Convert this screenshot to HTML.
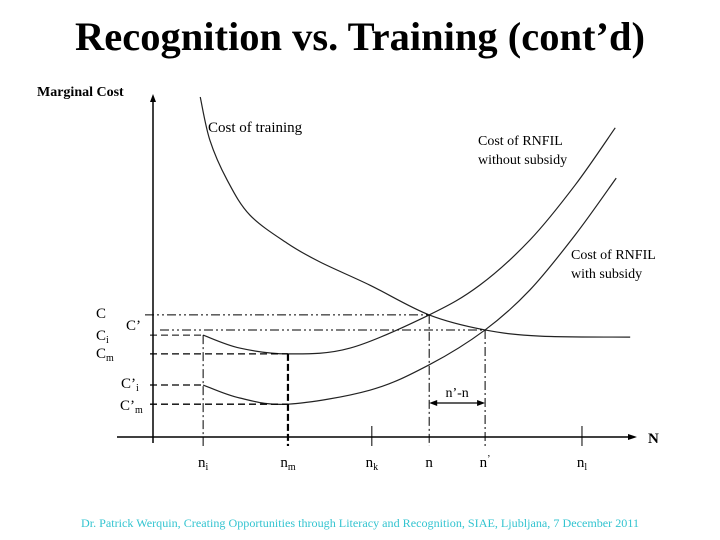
<!DOCTYPE html>
<html><head><meta charset="utf-8"><style>
html,body{margin:0;padding:0;background:#fff;}
svg{display:block;font-family:"Liberation Serif",serif;}
</style></head><body>
<svg id="chart" width="720" height="540" viewBox="0 0 720 540" xmlns="http://www.w3.org/2000/svg">
<text x="360" y="50" text-anchor="middle" font-size="40" font-weight="bold" textLength="570" lengthAdjust="spacingAndGlyphs">Recognition vs. Training (cont’d)</text>
<text x="37" y="96" font-size="14" font-weight="bold">Marginal Cost</text>
<text x="648" y="443" font-size="15" font-weight="bold">N</text>
<text x="208" y="132" font-size="15">Cost of training</text>
<text x="478" y="145" font-size="14">Cost of RNFIL</text>
<text x="478" y="164" font-size="14">without subsidy</text>
<text x="571" y="259" font-size="14">Cost of RNFIL</text>
<text x="571" y="278" font-size="14">with subsidy</text>
<text x="360" y="527" text-anchor="middle" font-size="12" fill="#33c4d0" textLength="558" lengthAdjust="spacingAndGlyphs">Dr. Patrick Werquin, Creating Opportunities through Literacy and Recognition, SIAE, Ljubljana, 7 December 2011</text>
<g id="marks"></g>
</svg>
<script>
const trainX=[9.8,11.8,15.4,20.1,27.8,34.6,45.0,57.3,68.9,80.3,99.0];
const trainY=[99.4,86.8,75.1,64.9,56.7,51.2,44.4,35.7,31.3,29.5,29.2];
const noSubX=[10.4,18.0,28.0,40.9,57.3,67.8,78.2,87.6,95.9];
const noSubY=[29.8,26.0,24.3,26.0,35.7,44.4,57.6,73.7,90.4];
const subX=[10.4,18.0,28.0,45.0,57.3,68.9,78.2,87.6,96.1];
const subY=[15.2,11.4,9.6,13.7,21.1,31.3,43.0,59.1,75.7];
const tickNames=["n_i","n_m","n_k","n","n'","n_l"];
const tickVals=[10.4,28.0,45.4,57.3,68.9,89.0];
const levelNames=["C","C'","C_i","C_m","C'_i","C'_m"];
const levelVals=[35.7,31.3,29.8,24.3,15.2,9.6];

const NS="http://www.w3.org/2000/svg";
const g=document.getElementById('marks');
const sx=v=>153+v*4.82;
const sy=v=>437-v*3.42;
function el(tag,attrs,parent){const e=document.createElementNS(NS,tag);for(const k in attrs)e.setAttribute(k,attrs[k]);(parent||g).appendChild(e);return e;}
function smooth(xs,ys){const p=xs.map((x,i)=>[sx(x),sy(ys[i])]);let d=`M${p[0][0]},${p[0][1]}`;
for(let i=0;i<p.length-1;i++){const p0=p[i-1]||p[i],p1=p[i],p2=p[i+1],p3=p[i+2]||p2;
d+=` C${p1[0]+(p2[0]-p0[0])/6},${p1[1]+(p2[1]-p0[1])/6} ${p2[0]-(p3[0]-p1[0])/6},${p2[1]-(p3[1]-p1[1])/6} ${p2[0]},${p2[1]}`;}return d;}

let a=el('line',{x1:153,y1:443,x2:153,y2:100,stroke:'#000','stroke-width':1.5});


a=el('polygon',{points:'153,94 150,102 156,102',fill:'#000'});


a=el('line',{x1:117,y1:437,x2:630,y2:437,stroke:'#000','stroke-width':1.5});


a=el('polygon',{points:'637,437 628,434 628,440',fill:'#000'});



a=el('path',{d:smooth(trainX,trainY),fill:'none',stroke:'#222','stroke-width':1.2});


a=el('path',{d:smooth(noSubX,noSubY),fill:'none',stroke:'#222','stroke-width':1.2});


a=el('path',{d:smooth(subX,subY),fill:'none',stroke:'#222','stroke-width':1.2});



const subs={"n_i":["n","i",3],"n_m":["n","m",3],"n_k":["n","k",3],"n":["n","",0],"n'":["n","’",-5],"n_l":["n","l",3]};
tickVals.forEach((v,i)=>{
  const nm=tickNames[i];
  if(nm==="n_k"||nm==="n_l"){const t=el('line',{x1:sx(v),y1:426,x2:sx(v),y2:446,stroke:'#000','stroke-width':1});
  
  }
  const tx=el('text',{x:sx(v),y:467,'font-size':15,'text-anchor':'middle'});
  
  
  tx.textContent=subs[nm][0];
  if(subs[nm][1]){const ts=el('tspan',{'font-size':10,dy:subs[nm][2]},tx);ts.textContent=subs[nm][1];}
});

const lvlPos={"C":[96,318],"C'":[126,330],"C_i":[96,340],"C_m":[96,358],"C'_i":[121,388],"C'_m":[120,410]};
const lvlText={"C":["C",""],"C'":["C’",""],"C_i":["C","i"],"C_m":["C","m"],"C'_i":["C’","i"],"C'_m":["C’","m"]};
levelNames.forEach((nm,i)=>{
  const t=el('text',{x:lvlPos[nm][0],y:lvlPos[nm][1],'font-size':15});
  
  
  t.textContent=lvlText[nm][0];
  if(lvlText[nm][1]){const ts=el('tspan',{'font-size':10,dy:3},t);ts.textContent=lvlText[nm][1];}
});

function guide(name,x1,y1,x2,y2,dash,w){const l=el('line',{x1,y1,x2,y2,stroke:'#000','stroke-width':w||1,'stroke-dasharray':dash});

}
const DD='9,3,2,3,2,3', DSH='7,4';
guide('guide-c',145,sy(levelVals[0]),sx(tickVals[3]),sy(levelVals[0]),DD);
guide('guide-cprime',160,sy(levelVals[1]),sx(tickVals[4]),sy(levelVals[1]),DD);
guide('guide-ci',150,sy(levelVals[2]),sx(tickVals[0]),sy(levelVals[2]),DSH);
guide('guide-cm',150,sy(levelVals[3]),sx(tickVals[1]),sy(levelVals[3]),DSH,1.3);
guide('guide-cpi',150,sy(levelVals[4]),sx(tickVals[0]),sy(levelVals[4]),DSH,1.3);
guide('guide-cpm',150,sy(levelVals[5]),sx(tickVals[1]),sy(levelVals[5]),DSH,1.3);
guide('guide-ni',sx(tickVals[0]),sy(levelVals[2]),sx(tickVals[0]),446,'9,3,2,3');
guide('guide-nm',sx(tickVals[1]),sy(levelVals[3]),sx(tickVals[1]),446,'7,3',2.2);
guide('guide-n',sx(tickVals[3]),sy(levelVals[0]),sx(tickVals[3]),446,'9,3,2,3');
guide('guide-nprime',sx(tickVals[4]),sy(levelVals[1]),sx(tickVals[4]),446,'9,3,2,3');

const ay=403, ax1=sx(tickVals[3]), ax2=sx(tickVals[4]);
a=el('line',{x1:ax1+6,y1:ay,x2:ax2-6,y2:ay,stroke:'#000','stroke-width':1.3});


a=el('polygon',{points:`${ax1},${ay} ${ax1+8},${ay-3} ${ax1+8},${ay+3}`,fill:'#000'});


a=el('polygon',{points:`${ax2},${ay} ${ax2-8},${ay-3} ${ax2-8},${ay+3}`,fill:'#000'});


a=el('text',{x:(ax1+ax2)/2,y:ay-6,'font-size':14,'text-anchor':'middle'});


a.textContent="n’-n";
</script>
</body></html>
